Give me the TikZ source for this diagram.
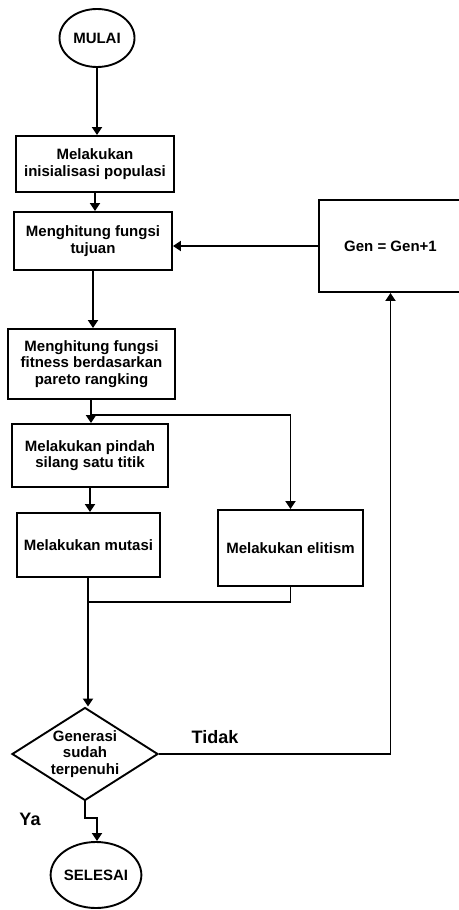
\documentclass[tikz,border=0pt]{standalone}
\usepackage{fontspec}
\setmainfont{Liberation Sans}
\usetikzlibrary{shapes.geometric,arrows.meta}
\begin{document}
\begin{tikzpicture}[x=1pt,y=-1pt,
  every node/.style={font=\fontsize{15}{16.5}\selectfont\bfseries, align=center, inner sep=0pt},
  line/.style={line width=1.9pt},
  arr/.style={line width=1.9pt,-{Triangle[length=8pt,width=10pt]}},
  proc/.style={draw, line width=1.9pt, rectangle},
  term/.style={draw, line width=1.9pt, ellipse},
  dec/.style={draw, line width=1.9pt, diamond, aspect=1.57},
  lbl/.style={font=\fontsize{18}{20}\selectfont\bfseries}]
\useasboundingbox (0,0) rectangle (458,910);
\node[term, minimum width=75pt, minimum height=58pt] (mulai) at (97,38) {MULAI};
\node[proc, minimum width=158pt, minimum height=56pt] (b1) at (95,164) {Melakukan\\inisialisasi populasi};
\node[proc, minimum width=158pt, minimum height=58pt] (b2) at (93,241) {Menghitung fungsi\\tujuan};
\node[proc, minimum width=143pt, minimum height=92pt] (gen) at (390.5,246) {Gen = Gen+1};
\node[proc, minimum width=167pt, minimum height=70pt] (b3) at (91.5,364) {Menghitung fungsi\\fitness berdasarkan\\pareto rangking};
\node[proc, minimum width=156pt, minimum height=63pt] (b4) at (90,455.5) {Melakukan pindah\\silang satu titik};
\node[proc, minimum width=143pt, minimum height=64pt] (b5) at (88.5,545) {Melakukan mutasi};
\node[proc, minimum width=145pt, minimum height=76pt] (b6) at (290.5,548) {Melakukan elitism};
\node[dec, minimum width=146pt, minimum height=93pt, inner sep=0pt] (d) at (85,754) {};
\node (dtxt) at (85,754) {Generasi\\sudah\\terpenuhi};
\node[term, minimum width=80pt, minimum height=66pt] (sel) at (96,875) {SELESAI};
\node[lbl] (tidak) at (215,737) {Tidak};
\node[lbl] (ya) at (30,819) {Ya};
\coordinate (br) at (91,415);
\coordinate (mg) at (88,602);
\coordinate (yb) at (85,818);
% connectors
\draw[arr] (mulai.south) -- (mulai.south |- b1.north);
\draw[arr] (b1.south) -- (b1.south |- b2.north);
\draw[arr] (b2.south) -- (b2.south |- b3.north);
\draw[line] (b3.south -| br) -- (br);
\draw[arr] (br) -- (br |- b4.north);
\draw[arr] (br) -| (b6.north);
\draw[arr] (b4.south) -- (b4.south |- b5.north);
\draw[line] (b6.south) |- (mg);
\draw[arr] (b5.south -| mg) -- (mg |- d.north);
\draw[arr] (d.east) -| (gen.south);
\draw[arr] (gen.west) -- (gen.west -| b2.east);
\draw[arr] (d.south) -- (yb) -- ++(12,0) -- (sel.north -| 97,0);
\end{tikzpicture}
\end{document}
